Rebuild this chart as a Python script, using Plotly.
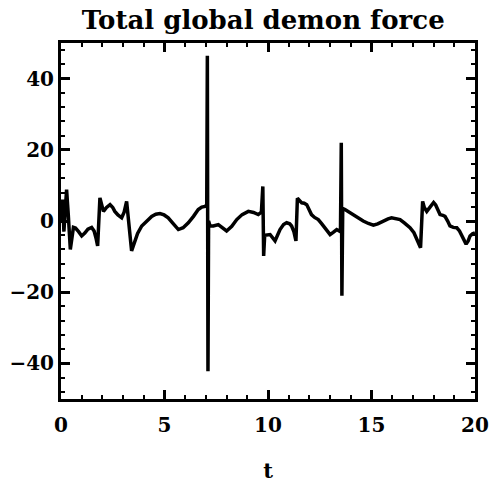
import plotly.graph_objects as go

t = [0.0, 0.08, 0.14, 0.2, 0.27, 0.35, 0.45, 0.6, 0.7, 0.85, 1.0, 1.15, 1.3, 1.48, 1.6, 1.7, 1.77,
     1.88, 1.96, 2.05, 2.2, 2.37, 2.5, 2.6, 2.75, 2.93, 3.05, 3.12, 3.17,
     3.41, 3.55, 3.7, 3.9, 4.1, 4.38, 4.58, 4.78, 4.98, 5.18, 5.4, 5.67, 5.9, 6.15, 6.4, 6.63, 6.8, 6.96, 7.04,
     7.07, 7.10, 7.13, 7.2, 7.36, 7.6, 7.8, 8.0, 8.25, 8.49, 8.75, 9.05, 9.3, 9.53, 9.68,
     9.75, 9.79, 9.84, 10.1, 10.22, 10.34, 10.46, 10.58, 10.75, 10.9, 11.05, 11.14, 11.25, 11.35,
     11.42, 11.52, 11.63, 11.75, 11.87, 12.0, 12.1, 12.25, 12.43, 12.6, 12.75, 12.9, 13.0, 13.15, 13.32,
     13.5, 13.54, 13.57, 13.61, 13.72, 13.9, 14.12, 14.35, 14.6, 14.85, 15.09, 15.3, 15.57, 15.8, 15.97,
     16.2, 16.38, 16.6, 16.86, 17.05, 17.21, 17.37,
     17.47, 17.55, 17.67, 17.85, 18.0, 18.1, 18.2, 18.31, 18.45, 18.55, 18.68, 18.79, 18.95, 19.12,
     19.25, 19.36, 19.47, 19.57, 19.67, 19.76, 19.88, 20.0]
force = [0.0, 6.0, -3.0, 3.5, 8.8, 2.0, -8.0, -1.8, -2.0, -3.0, -4.2, -3.4, -2.3, -1.8, -2.8, -5.0, -7.0,
         6.5, 4.5, 2.7, 3.8, 4.6, 3.8, 2.7, 1.7, 0.9, 2.5, 4.5, 5.5,
         -8.4, -6.0, -3.5, -1.4, -0.2, 1.3, 1.9, 2.1, 1.7, 0.9, -0.6, -2.4, -1.9, -0.5, 1.3, 3.2, 3.9, 4.1, 4.5,
         46.4, -42.2, 0.0, -1.4, -1.4, -1.0, -1.8, -2.8, -1.5, 0.4, 1.8, 2.7, 2.4, 1.8, 2.5,
         9.7, -9.8, -4.0, -3.8, -4.8, -5.6, -4.0, -2.4, -1.0, -0.5, -0.8, -1.4, -3.0, -5.6,
         6.4, 5.6, 5.1, 5.0, 4.6, 3.0, 1.8, 1.0, 0.4, -0.8, -1.9, -3.2, -3.8, -3.2, -2.4,
         -3.0, 22.0, -21.0, 3.5, 3.2, 2.5, 1.8, 0.9, 0.0, -0.7, -1.2, -0.8, 0.0, 0.6, 0.9,
         0.7, 0.4, -0.6, -1.9, -3.3, -5.2, -7.5,
         5.5, 3.8, 2.7, 4.0, 5.2, 4.5, 3.0, 1.8, 1.6, 1.3, 0.0, -1.4, -1.8, -1.9,
         -2.8, -4.2, -5.6, -6.5, -5.6, -4.2, -3.6, -3.3]

title_text = "Total global demon force"
x_label = "t"
x_ticks = [0, 5, 10, 15, 20]
y_ticks = [-40, -20, 0, 20, 40]

fig = go.Figure()
fig.add_trace(go.Scatter(x=t, y=force, mode="lines",
                         line=dict(color="black", width=3.5), showlegend=False))

font_fam = "DejaVu Serif"
axis_common = dict(
    showgrid=False, zeroline=False, showline=True, linecolor="black", linewidth=3,
    mirror="ticks", ticks="inside", ticklen=9, tickwidth=2.5, tickcolor="black",
    tickfont=dict(family=font_fam, size=20, color="black", weight="bold"),
    automargin=False,
)
fig.update_xaxes(range=[0, 20], tickvals=x_ticks, ticklabelstandoff=6,
                 minor=dict(dtick=1, ticks="inside", ticklen=4, tickwidth=2, tickcolor="black"),
                 title=dict(text=x_label, font=dict(family=font_fam, size=21, color="black", weight="bold"),
                            standoff=28),
                 **axis_common)
fig.update_yaxes(range=[-50, 50], tickvals=y_ticks,
                 minor=dict(dtick=4, ticks="inside", ticklen=4, tickwidth=2, tickcolor="black"),
                 **axis_common)
fig.update_layout(
    width=492, height=483,
    margin=dict(l=61, r=17, t=43, b=84),
    paper_bgcolor="white", plot_bgcolor="white",
    title=dict(text=title_text, x=0.535, xanchor="center", y=0.958, yanchor="middle",
               font=dict(family=font_fam, size=26, color="black", weight="bold")),
)
fig.write_html("out.html")
